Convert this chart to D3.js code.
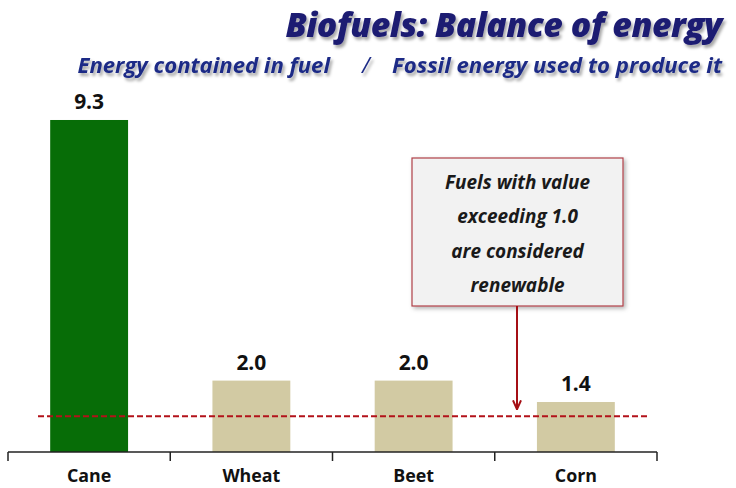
<!DOCTYPE html>
<html><head><meta charset="utf-8">
<script src="https://cdn.jsdelivr.net/npm/d3@7"></script>
<style>body{margin:0;background:#fff}svg{display:block}</style>
</head><body>
<svg id="c" width="736" height="488"></svg>
<script>
const categories = ["Cane","Wheat","Beet","Corn"];
const values = [9.3,2.0,2.0,1.4];
const valueLabels = ["9.3","2.0","2.0","1.4"];
const barColors = ["#076d07","#d2caa3","#d2caa3","#d2caa3"];
const threshold = 1.0;
const titleText = "Biofuels: Balance of energy";
const subtitleLeft = "Energy contained in fuel";
const subtitleSep = "/";
const subtitleRight = "Fossil energy used to produce it";
const noteLines = ["Fuels with value","exceeding 1.0","are considered","renewable"];

const svg = d3.select("#c");
const defs = svg.append("defs");
const f = defs.append("filter").attr("id","sh").attr("x","-5%").attr("y","-20%").attr("width","115%").attr("height","150%");
f.append("feDropShadow").attr("dx",2).attr("dy",3).attr("stdDeviation",1.5).attr("flood-color","#000").attr("flood-opacity",0.35);
const f2 = defs.append("filter").attr("id","bsh").attr("x","-10%").attr("y","-10%").attr("width","125%").attr("height","125%");
f2.append("feDropShadow").attr("dx",2).attr("dy",2).attr("stdDeviation",2).attr("flood-color","#000").attr("flood-opacity",0.3);
defs.append("marker").attr("id","arr").attr("viewBox","0 0 10 10").attr("refX",9).attr("refY",5)
  .attr("markerWidth",5).attr("markerHeight",5).attr("orient","auto")
  .append("path").attr("d","M0,1 L9,5 L0,9").attr("fill","none").attr("stroke","#a50f15").attr("stroke-width",2);

const font = "'Open Sans', Lato, sans-serif";
function fit(txt, weight, style, target){
  const t = svg.append("text").attr("font-family",font).attr("font-weight",weight)
    .attr("font-style",style).attr("font-size",100).text(txt);
  const w = t.node().getComputedTextLength(); t.remove();
  return 100*target/w;
}

const x = d3.scaleBand().domain(categories).range([8,657]).paddingInner(0.52).paddingOuter(0.26);
const y = d3.scaleLinear().domain([0,10]).range([452,95]);

// title
const tSize = fit(titleText,700,"italic",432);
svg.append("text").attr("x",722).attr("y",37).attr("text-anchor","end")
  .attr("font-family",font).attr("font-weight",800).attr("font-style","italic").attr("font-size",tSize)
  .attr("letter-spacing",-0.5)
  .attr("fill","#1b1a72").attr("filter","url(#sh)").text(titleText);
const sSize = fit(subtitleRight,700,"italic",330);
const sub = svg.append("g").attr("font-family",font).attr("font-weight",700).attr("font-style","italic")
  .attr("font-size",sSize).attr("fill","#1d2c86").attr("filter","url(#sh)");
sub.append("text").attr("x",722).attr("y",73).attr("text-anchor","end").text(subtitleRight);
sub.append("text").attr("x",366).attr("y",73).attr("text-anchor","middle").attr("font-weight",400).text(subtitleSep);
sub.append("text").attr("x",330).attr("y",73).attr("text-anchor","end").text(subtitleLeft);

// bars
svg.append("g").selectAll("rect").data(categories).join("rect")
  .attr("x",d=>x(d)).attr("width",x.bandwidth())
  .attr("y",(d,i)=>y(values[i])).attr("height",(d,i)=>y(0)-y(values[i]))
  .attr("fill",(d,i)=>barColors[i]);

const vSize = fit("9.3",700,"normal",30);
svg.append("g").selectAll("text").data(categories).join("text")
  .attr("x",d=>x(d)+x.bandwidth()/2).attr("y",(d,i)=>y(values[i])-11)
  .attr("text-anchor","middle").attr("font-family",font).attr("font-weight",700).attr("font-size",vSize)
  .attr("fill","#111").text((d,i)=>valueLabels[i]);

// threshold line
svg.append("line").attr("x1",38).attr("x2",650).attr("y1",y(threshold)).attr("y2",y(threshold))
  .attr("stroke","#b3121a").attr("stroke-width",2).attr("stroke-dasharray","6,3");

// axis
const ax = svg.append("g").attr("transform",`translate(0,${y(0)})`);
ax.append("line").attr("x1",8).attr("x2",657).attr("stroke","#222").attr("stroke-width",1.5);
const edges = d3.range(categories.length+1).map(i=>8 + i*(649/categories.length));
ax.selectAll(".tk").data(edges).join("line").attr("class","tk")
  .attr("x1",d=>d).attr("x2",d=>d).attr("y1",0).attr("y2",9).attr("stroke","#222").attr("stroke-width",1.5);
const cSize = fit("Wheat",700,"normal",58);
ax.selectAll(".lb").data(categories).join("text").attr("class","lb")
  .attr("x",d=>x(d)+x.bandwidth()/2).attr("y",30).attr("text-anchor","middle")
  .attr("font-family",font).attr("font-weight",700).attr("font-size",cSize).attr("fill","#111").text(d=>d);

// annotation
const bx=412, by=158, bw=211, bh=148;
svg.append("rect").attr("x",bx).attr("y",by).attr("width",bw).attr("height",bh)
  .attr("fill","#f2f2f2").attr("stroke","#b04048").attr("stroke-width",1.2).attr("filter","url(#bsh)");
const nSize = fit(noteLines[0],700,"italic",145);
svg.append("g").selectAll("text").data(noteLines).join("text")
  .attr("x",bx+bw/2).attr("y",(d,i)=>189+i*34.3).attr("text-anchor","middle")
  .attr("font-family",font).attr("font-weight",700).attr("font-style","italic").attr("font-size",nSize)
  .attr("fill","#1a1a1a").text(d=>d);
svg.append("line").attr("x1",517).attr("x2",517).attr("y1",by+bh).attr("y2",y(threshold)-7)
  .attr("stroke","#a50f15").attr("stroke-width",2).attr("marker-end","url(#arr)");
</script>
</body></html>
